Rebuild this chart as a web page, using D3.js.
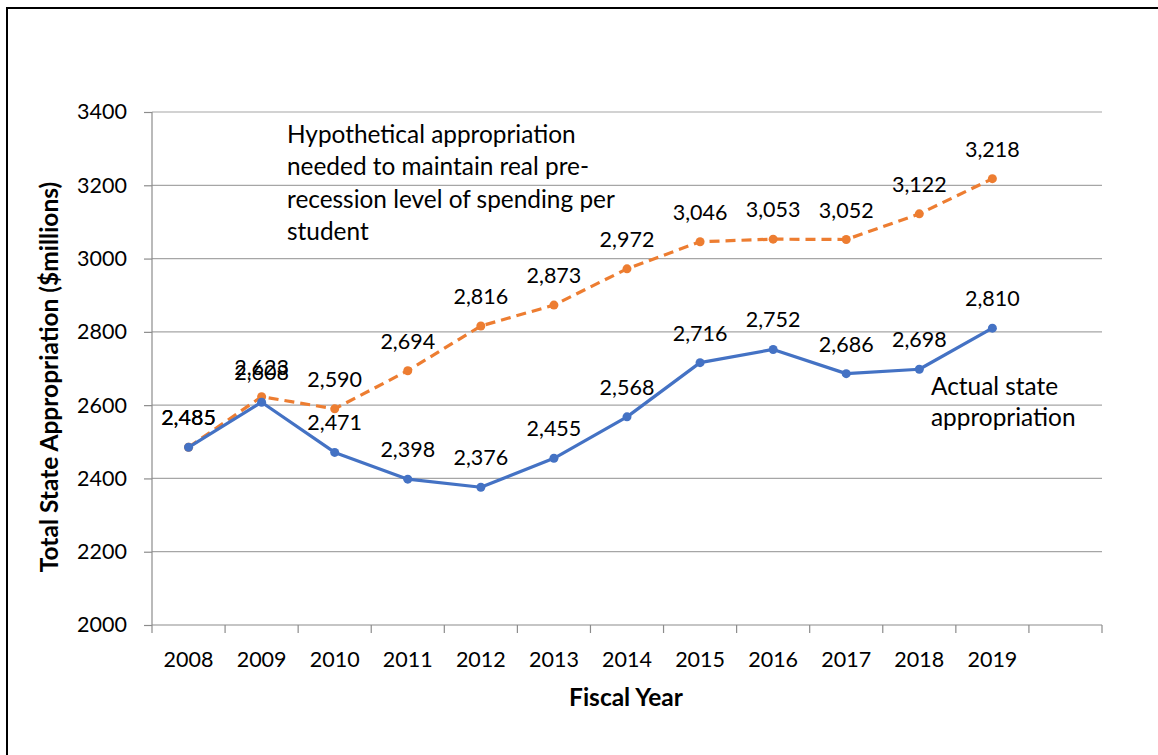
<!DOCTYPE html>
<html lang="en">
<head>
  <meta charset="UTF-8">
  <title>State Appropriation</title>
  <script src="https://d3js.org/d3.v7.min.js"></script>
  <style>
    body { margin: 0; background: #fff; }
    svg text { font-family: Lato, "Open Sans", sans-serif; fill: #000; }
  </style>
</head>
<body>
  <svg id="chart" width="1158" height="755"></svg>
  <script>
    // categories (last slot is empty, like the original sheet)
    const categories = ["2008", "2009", "2010", "2011", "2012", "2013", "2014", "2015", "2016", "2017", "2018", "2019", ""];
    const years = categories.slice(0, 12);
    const actual = [2485, 2608, 2471, 2398, 2376, 2455, 2568, 2716, 2752, 2686, 2698, 2810];
    const hypothetical = [2485, 2623, 2590, 2694, 2816, 2873, 2972, 3046, 3053, 3052, 3122, 3218];
    const yTicks = [2000, 2200, 2400, 2600, 2800, 3000, 3200, 3400];

    const svg = d3.select("#chart");
    const plotL = 152, plotR = 1102, plotT = 112, plotB = 625;
    const fontSize = 21.5;   // numbers
    const wordSize = 24.4;   // words (Lato letters run narrower than the original font)

    // outer frame
    svg.append("rect")
      .attr("x", 7).attr("y", 8)
      .attr("width", 1160).attr("height", 770)
      .attr("fill", "none").attr("stroke", "#000").attr("stroke-width", 2);

    const x = d3.scaleBand().domain(categories).range([plotL, plotR]).padding(0);
    const y = d3.scaleLinear().domain([2000, 3400]).range([plotB, plotT]);

    // gridlines
    svg.append("g")
      .selectAll("line")
      .data(yTicks.slice(1))
      .join("line")
      .attr("x1", plotL).attr("x2", plotR)
      .attr("y1", d => y(d)).attr("y2", d => y(d))
      .attr("stroke", "#a6a6a6").attr("stroke-width", 1.2);

    // y axis
    const yAxis = svg.append("g")
      .attr("transform", `translate(${plotL},0)`)
      .call(d3.axisLeft(y).tickValues(yTicks).tickSize(8).tickPadding(17).tickFormat(d3.format("d")));
    yAxis.selectAll("line, path").attr("stroke", "#8c8c8c").attr("stroke-width", 1.2);
    yAxis.select(".domain").attr("d", `M0,${plotT}V${plotB}`);
    yAxis.selectAll("text").style("font-size", fontSize + "px").style("font-family", null);

    // x axis: line, boundary ticks, labels
    const xAxis = svg.append("g");
    xAxis.append("line")
      .attr("x1", plotL).attr("x2", plotR)
      .attr("y1", plotB).attr("y2", plotB)
      .attr("stroke", "#8c8c8c").attr("stroke-width", 1.2);
    xAxis.selectAll("line.tick")
      .data(d3.range(categories.length + 1))
      .join("line")
      .attr("class", "tick")
      .attr("x1", i => plotL + i * x.step()).attr("x2", i => plotL + i * x.step())
      .attr("y1", plotB).attr("y2", plotB + 8)
      .attr("stroke", "#8c8c8c").attr("stroke-width", 1.2);
    xAxis.selectAll("text")
      .data(years)
      .join("text")
      .attr("x", d => x(d) + x.bandwidth() / 2)
      .attr("y", 667)
      .attr("text-anchor", "middle")
      .style("font-size", fontSize + "px")
      .text(d => d);

    // axis titles
    svg.append("text")
      .attr("transform", "translate(58,377) rotate(-90)")
      .attr("text-anchor", "middle")
      .style("font-size", "24.5px").style("font-weight", "bold")
      .text("Total State Appropriation ($millions)");
    svg.append("text")
      .attr("x", 626).attr("y", 706)
      .attr("text-anchor", "middle")
      .style("font-size", "24.5px").style("font-weight", "bold")
      .text("Fiscal Year");

    const cx = (d, i) => x(years[i]) + x.bandwidth() / 2;
    const line = d3.line().x(cx).y(d => y(d));
    const fmt = d3.format(",");

    function drawSeries(values, color, dash) {
      const g = svg.append("g");
      g.append("path")
        .datum(values)
        .attr("d", line)
        .attr("fill", "none")
        .attr("stroke", color)
        .attr("stroke-width", 3.2)
        .attr("stroke-linejoin", "round")
        .attr("stroke-dasharray", dash);
      g.selectAll("circle")
        .data(values)
        .join("circle")
        .attr("cx", cx).attr("cy", d => y(d))
        .attr("r", 4.5).attr("fill", color);
      g.selectAll("text")
        .data(values)
        .join("text")
        .attr("x", cx).attr("y", d => y(d) - 22)
        .attr("text-anchor", "middle")
        .style("font-size", fontSize + "px")
        .text(d => fmt(d));
    }

    drawSeries(hypothetical, "#ED7D31", "10,6");
    drawSeries(actual, "#4472C4", null);

    // annotations
    const noteHyp = ["Hypothetical appropriation", "needed to maintain real pre-", "recession level of spending per", "student"];
    svg.append("g").selectAll("text")
      .data(noteHyp)
      .join("text")
      .attr("x", 287).attr("y", (d, i) => 143 + i * 32.3)
      .style("font-size", wordSize + "px")
      .text(d => d);

    const noteAct = ["Actual state", "appropriation"];
    svg.append("g").selectAll("text")
      .data(noteAct)
      .join("text")
      .attr("x", 931).attr("y", (d, i) => 395 + i * 31)
      .style("font-size", wordSize + "px")
      .text(d => d);
  </script>
</body>
</html>
